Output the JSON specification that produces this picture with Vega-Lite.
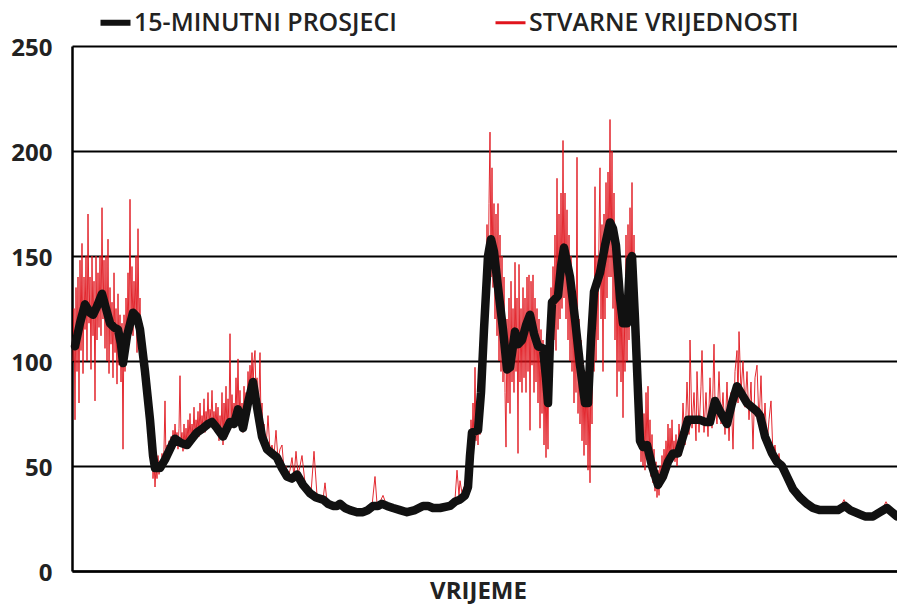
{
"$schema": "https://vega.github.io/schema/vega-lite/v6.json",
"width": 825, "height": 525,
"autosize": {"type": "none"},
"padding": {"left": 72, "top": 46, "right": 0, "bottom": 35},
"background": "white",
"config": {"view": {"stroke": null}, "font": "Open Sans"},
"datasets": {
"avg": [
{"t":75,"v":107},{"t":80,"v":118},{"t":85,"v":127},{"t":90,"v":123},{"t":93,"v":122},{"t":97,"v":126},{"t":102,"v":132},{"t":106,"v":125},{"t":110,"v":118},{"t":114,"v":116},{"t":118,"v":115},{"t":121,"v":108},{"t":123,"v":99},{"t":127,"v":112},{"t":133,"v":123},{"t":137,"v":121},{"t":140,"v":115},{"t":145,"v":95},{"t":150,"v":72},{"t":153,"v":55},{"t":155,"v":49},{"t":160,"v":49},{"t":165,"v":53},{"t":170,"v":58},{"t":175,"v":63},{"t":181,"v":61},{"t":187,"v":60},{"t":192,"v":63},{"t":197,"v":66},{"t":203,"v":68},{"t":208,"v":70},{"t":212,"v":71},{"t":217,"v":68},{"t":223,"v":64},{"t":227,"v":68},{"t":230,"v":71},{"t":234,"v":70},{"t":238,"v":77},{"t":241,"v":72},{"t":243,"v":68},{"t":248,"v":80},{"t":253,"v":90},{"t":257,"v":78},{"t":262,"v":64},{"t":267,"v":58},{"t":272,"v":56},{"t":277,"v":54},{"t":282,"v":49},{"t":287,"v":45},{"t":292,"v":44},{"t":297,"v":46},{"t":303,"v":41},{"t":310,"v":37},{"t":316,"v":35},{"t":323,"v":34},{"t":328,"v":32},{"t":333,"v":31},{"t":337,"v":31},{"t":340,"v":32},{"t":345,"v":30},{"t":350,"v":29},{"t":357,"v":28},{"t":363,"v":28},{"t":368,"v":29},{"t":373,"v":31},{"t":378,"v":31},{"t":382,"v":32},{"t":387,"v":31},{"t":393,"v":30},{"t":400,"v":29},{"t":407,"v":28},{"t":415,"v":29},{"t":423,"v":31},{"t":428,"v":31},{"t":433,"v":30},{"t":440,"v":30},{"t":450,"v":31},{"t":455,"v":33},{"t":460,"v":34},{"t":465,"v":36},{"t":468,"v":40},{"t":470,"v":55},{"t":472,"v":66},{"t":478,"v":67},{"t":481,"v":85},{"t":484,"v":115},{"t":488,"v":150},{"t":491,"v":158},{"t":494,"v":152},{"t":498,"v":135},{"t":503,"v":115},{"t":507,"v":96},{"t":510,"v":97},{"t":515,"v":114},{"t":518,"v":108},{"t":522,"v":110},{"t":526,"v":117},{"t":530,"v":122},{"t":534,"v":113},{"t":538,"v":107},{"t":543,"v":106},{"t":546,"v":92},{"t":548,"v":80},{"t":550,"v":110},{"t":552,"v":128},{"t":558,"v":131},{"t":561,"v":145},{"t":564,"v":154},{"t":567,"v":147},{"t":570,"v":140},{"t":575,"v":120},{"t":580,"v":98},{"t":585,"v":80},{"t":588,"v":80},{"t":591,"v":110},{"t":594,"v":133},{"t":600,"v":142},{"t":605,"v":155},{"t":610,"v":166},{"t":613,"v":163},{"t":616,"v":155},{"t":620,"v":130},{"t":623,"v":118},{"t":627,"v":118},{"t":630,"v":148},{"t":632,"v":150},{"t":635,"v":120},{"t":640,"v":62},{"t":643,"v":59},{"t":647,"v":60},{"t":652,"v":50},{"t":658,"v":41},{"t":663,"v":45},{"t":668,"v":52},{"t":673,"v":56},{"t":678,"v":56},{"t":683,"v":64},{"t":688,"v":72},{"t":693,"v":72},{"t":700,"v":72},{"t":705,"v":71},{"t":710,"v":71},{"t":715,"v":81},{"t":720,"v":76},{"t":727,"v":70},{"t":732,"v":80},{"t":737,"v":88},{"t":742,"v":84},{"t":747,"v":80},{"t":752,"v":78},{"t":757,"v":76},{"t":760,"v":74},{"t":765,"v":64},{"t":772,"v":56},{"t":777,"v":52},{"t":782,"v":50},{"t":787,"v":45},{"t":793,"v":39},{"t":800,"v":35},{"t":807,"v":32},{"t":813,"v":30},{"t":820,"v":29},{"t":830,"v":29},{"t":838,"v":29},{"t":845,"v":31},{"t":850,"v":29},{"t":860,"v":27},{"t":865,"v":26},{"t":873,"v":26},{"t":880,"v":28},{"t":887,"v":30},{"t":892,"v":28},{"t":897,"v":26}
],
"raw": [
{"t":73,"v":100},{"t":74,"v":125},{"t":75,"v":72},{"t":76,"v":135},{"t":77,"v":95},{"t":78,"v":140},{"t":79,"v":80},{"t":80,"v":148},{"t":81,"v":105},{"t":82,"v":156},{"t":83,"v":94},{"t":84,"v":140},{"t":85,"v":115},{"t":86,"v":150},{"t":87,"v":100},{"t":88,"v":170},{"t":89,"v":118},{"t":90,"v":140},{"t":91,"v":96},{"t":92,"v":150},{"t":93,"v":112},{"t":94,"v":138},{"t":95,"v":81},{"t":96,"v":150},{"t":97,"v":110},{"t":98,"v":142},{"t":99,"v":116},{"t":100,"v":150},{"t":101,"v":112},{"t":102,"v":173},{"t":103,"v":120},{"t":104,"v":148},{"t":105,"v":106},{"t":106,"v":150},{"t":107,"v":100},{"t":108,"v":158},{"t":109,"v":94},{"t":110,"v":135},{"t":111,"v":108},{"t":112,"v":128},{"t":113,"v":92},{"t":114,"v":142},{"t":115,"v":104},{"t":116,"v":125},{"t":117,"v":89},{"t":118,"v":132},{"t":119,"v":98},{"t":120,"v":122},{"t":121,"v":90},{"t":122,"v":118},{"t":123,"v":58},{"t":124,"v":122},{"t":125,"v":95},{"t":126,"v":130},{"t":127,"v":108},{"t":128,"v":142},{"t":129,"v":112},{"t":130,"v":177},{"t":131,"v":118},{"t":132,"v":145},{"t":133,"v":112},{"t":134,"v":138},{"t":135,"v":118},{"t":136,"v":150},{"t":137,"v":104},{"t":138,"v":163},{"t":139,"v":112},{"t":140,"v":130},{"t":141,"v":102},{"t":142,"v":118},{"t":143,"v":92},{"t":144,"v":110},{"t":145,"v":86},{"t":146,"v":98},{"t":147,"v":78},{"t":148,"v":84},{"t":149,"v":64},{"t":150,"v":75},{"t":151,"v":54},{"t":152,"v":60},{"t":153,"v":44},{"t":154,"v":53},{"t":155,"v":40},{"t":156,"v":50},{"t":157,"v":44},{"t":158,"v":55},{"t":159,"v":46},{"t":160,"v":52},
{"t":161,"v":48},{"t":162,"v":56},{"t":163,"v":50},{"t":164,"v":58},{"t":165,"v":81},{"t":166,"v":52},{"t":167,"v":60},{"t":168,"v":55},{"t":169,"v":62},{"t":170,"v":56},{"t":171,"v":64},{"t":172,"v":58},{"t":173,"v":67},{"t":174,"v":60},{"t":175,"v":70},{"t":176,"v":62},{"t":177,"v":66},{"t":178,"v":58},{"t":179,"v":68},{"t":180,"v":93},{"t":181,"v":62},{"t":182,"v":66},{"t":183,"v":57},{"t":184,"v":70},{"t":185,"v":58},{"t":186,"v":68},{"t":187,"v":60},{"t":188,"v":72},{"t":189,"v":62},{"t":190,"v":75},{"t":191,"v":61},{"t":192,"v":70},{"t":193,"v":64},{"t":194,"v":78},{"t":195,"v":63},{"t":196,"v":72},{"t":197,"v":66},{"t":198,"v":76},{"t":199,"v":64},{"t":200,"v":80},{"t":201,"v":66},{"t":202,"v":74},{"t":203,"v":68},{"t":204,"v":82},{"t":205,"v":66},{"t":206,"v":76},{"t":207,"v":70},{"t":208,"v":85},{"t":209,"v":68},{"t":210,"v":77},{"t":211,"v":72},{"t":212,"v":86},{"t":213,"v":70},{"t":214,"v":76},{"t":215,"v":68},{"t":216,"v":80},{"t":217,"v":66},{"t":218,"v":78},{"t":219,"v":62},{"t":220,"v":74},{"t":221,"v":64},{"t":222,"v":85},{"t":223,"v":60},{"t":224,"v":80},{"t":225,"v":66},{"t":226,"v":88},{"t":227,"v":64},{"t":228,"v":82},{"t":229,"v":70},{"t":230,"v":113},{"t":231,"v":68},{"t":232,"v":84},{"t":233,"v":70},{"t":234,"v":80},{"t":235,"v":72},{"t":236,"v":92},{"t":237,"v":74},{"t":238,"v":101},{"t":239,"v":72},{"t":240,"v":86},{"t":241,"v":68},{"t":242,"v":80},{"t":243,"v":66},{"t":244,"v":88},{"t":245,"v":72},{"t":246,"v":85},{"t":247,"v":76},{"t":248,"v":95},{"t":249,"v":82},{"t":250,"v":98},{"t":251,"v":86},{"t":252,"v":104},{"t":253,"v":88},{"t":254,"v":100},{"t":255,"v":105},{"t":256,"v":84},{"t":257,"v":92},{"t":258,"v":76},{"t":259,"v":85},{"t":260,"v":104},{"t":261,"v":70},{"t":262,"v":80},{"t":263,"v":62},{"t":264,"v":70},{"t":265,"v":60},
{"t":266,"v":58},{"t":268,"v":74},{"t":270,"v":57},{"t":272,"v":60},{"t":274,"v":55},{"t":276,"v":67},{"t":278,"v":53},{"t":280,"v":58},{"t":282,"v":60},{"t":284,"v":48},{"t":286,"v":50},{"t":288,"v":45},{"t":290,"v":48},{"t":292,"v":54},{"t":294,"v":45},{"t":296,"v":57},{"t":298,"v":46},{"t":300,"v":50},
{"t":302,"v":55},{"t":305,"v":42},{"t":308,"v":39},{"t":311,"v":37},{"t":314,"v":57},{"t":317,"v":36},{"t":320,"v":35},{"t":323,"v":34},{"t":325,"v":42},{"t":327,"v":33},{"t":330,"v":32},{"t":333,"v":31},{"t":336,"v":31},{"t":339,"v":33},{"t":342,"v":31},{"t":345,"v":30},{"t":348,"v":30},{"t":351,"v":29},{"t":354,"v":29},{"t":357,"v":28},{"t":360,"v":28},{"t":363,"v":29},{"t":366,"v":29},{"t":369,"v":30},{"t":372,"v":31},{"t":375,"v":45},{"t":377,"v":32},{"t":380,"v":33},{"t":383,"v":36},{"t":386,"v":32},{"t":389,"v":31},{"t":392,"v":30},{"t":395,"v":30},{"t":398,"v":29},{"t":401,"v":29},{"t":404,"v":28},{"t":407,"v":28},{"t":410,"v":29},{"t":413,"v":29},{"t":416,"v":30},{"t":419,"v":31},{"t":422,"v":32},{"t":425,"v":31},{"t":428,"v":31},{"t":431,"v":30},{"t":434,"v":30},{"t":437,"v":31},{"t":440,"v":30},{"t":443,"v":31},{"t":446,"v":31},{"t":449,"v":32},{"t":452,"v":33},{"t":455,"v":34},{"t":457,"v":48},{"t":459,"v":36},{"t":460,"v":43},{"t":462,"v":37},{"t":464,"v":40},{"t":466,"v":42},
{"t":467,"v":45},{"t":468,"v":38},{"t":469,"v":60},{"t":470,"v":50},{"t":471,"v":72},{"t":472,"v":58},{"t":473,"v":80},{"t":474,"v":60},{"t":475,"v":97},{"t":476,"v":62},{"t":477,"v":78},{"t":478,"v":60},{"t":479,"v":82},{"t":480,"v":65},{"t":481,"v":95},{"t":482,"v":75},{"t":483,"v":120},{"t":484,"v":95},{"t":485,"v":140},{"t":486,"v":110},{"t":487,"v":165},{"t":488,"v":125},{"t":489,"v":175},{"t":490,"v":209},{"t":491,"v":140},{"t":492,"v":192},{"t":493,"v":135},{"t":494,"v":175},{"t":495,"v":120},{"t":496,"v":170},{"t":497,"v":112},{"t":498,"v":175},{"t":499,"v":100},{"t":500,"v":160},{"t":501,"v":95},{"t":502,"v":150},{"t":503,"v":90},{"t":504,"v":140},{"t":505,"v":85},{"t":506,"v":59},{"t":507,"v":120},{"t":508,"v":80},{"t":509,"v":130},{"t":510,"v":75},{"t":511,"v":138},{"t":512,"v":90},{"t":513,"v":125},{"t":514,"v":85},{"t":515,"v":147},{"t":516,"v":95},{"t":517,"v":130},{"t":518,"v":56},{"t":519,"v":146},{"t":520,"v":90},{"t":521,"v":125},{"t":522,"v":85},{"t":523,"v":135},{"t":524,"v":92},{"t":525,"v":130},{"t":526,"v":85},{"t":527,"v":140},{"t":528,"v":95},{"t":529,"v":141},{"t":530,"v":67},{"t":531,"v":138},{"t":532,"v":98},{"t":533,"v":141},{"t":534,"v":85},{"t":535,"v":130},{"t":536,"v":90},{"t":537,"v":125},{"t":538,"v":80},{"t":539,"v":120},{"t":540,"v":68},{"t":541,"v":115},{"t":542,"v":75},{"t":543,"v":110},{"t":544,"v":60},{"t":545,"v":100},{"t":546,"v":54},{"t":547,"v":95},{"t":548,"v":58},{"t":549,"v":120},{"t":550,"v":90},{"t":551,"v":135},{"t":552,"v":100},{"t":553,"v":145},{"t":554,"v":110},{"t":555,"v":160},{"t":556,"v":105},{"t":557,"v":187},{"t":558,"v":115},{"t":559,"v":170},{"t":560,"v":120},{"t":561,"v":180},{"t":562,"v":125},{"t":563,"v":205},{"t":564,"v":130},{"t":565,"v":180},{"t":566,"v":120},{"t":567,"v":172},{"t":568,"v":110},{"t":569,"v":160},{"t":570,"v":100},{"t":571,"v":150},{"t":572,"v":95},{"t":573,"v":140},{"t":574,"v":80},{"t":575,"v":130},{"t":576,"v":85},{"t":577,"v":197},{"t":578,"v":75},{"t":579,"v":120},{"t":580,"v":70},{"t":581,"v":110},{"t":582,"v":62},{"t":583,"v":100},{"t":584,"v":55},{"t":585,"v":95},{"t":586,"v":60},{"t":587,"v":100},{"t":588,"v":48},{"t":589,"v":90},{"t":590,"v":42},{"t":591,"v":110},{"t":592,"v":70},{"t":593,"v":130},{"t":594,"v":95},{"t":595,"v":183},{"t":596,"v":100},{"t":597,"v":150},{"t":598,"v":110},{"t":599,"v":160},{"t":600,"v":192},{"t":601,"v":120},{"t":602,"v":165},{"t":603,"v":95},{"t":604,"v":170},{"t":605,"v":120},{"t":606,"v":185},{"t":607,"v":130},{"t":608,"v":190},{"t":609,"v":140},{"t":610,"v":215},{"t":611,"v":140},{"t":612,"v":200},{"t":613,"v":125},{"t":614,"v":180},{"t":615,"v":110},{"t":616,"v":160},{"t":617,"v":83},{"t":618,"v":150},{"t":619,"v":95},{"t":620,"v":140},{"t":621,"v":90},{"t":622,"v":135},{"t":623,"v":73},{"t":624,"v":130},{"t":625,"v":95},{"t":626,"v":160},{"t":627,"v":100},{"t":628,"v":165},{"t":629,"v":110},{"t":630,"v":173},{"t":631,"v":120},{"t":632,"v":185},{"t":633,"v":110},{"t":634,"v":160},{"t":635,"v":100},{"t":636,"v":135},{"t":637,"v":75},{"t":638,"v":95},{"t":639,"v":60},{"t":640,"v":80},{"t":641,"v":52},{"t":642,"v":72},{"t":643,"v":50},{"t":644,"v":75},{"t":645,"v":48},
{"t":646,"v":85},{"t":647,"v":55},{"t":648,"v":88},{"t":649,"v":50},{"t":650,"v":72},{"t":651,"v":45},{"t":652,"v":65},{"t":653,"v":42},{"t":654,"v":58},{"t":655,"v":38},{"t":656,"v":52},{"t":657,"v":35},{"t":658,"v":48},{"t":659,"v":36},{"t":660,"v":50},{"t":661,"v":40},{"t":662,"v":55},{"t":663,"v":42},{"t":664,"v":58},{"t":665,"v":46},{"t":666,"v":62},{"t":667,"v":48},{"t":668,"v":70},{"t":669,"v":50},{"t":670,"v":68},{"t":671,"v":52},{"t":672,"v":72},{"t":673,"v":54},{"t":674,"v":62},{"t":675,"v":52},{"t":676,"v":65},{"t":677,"v":50},{"t":679,"v":70},{"t":681,"v":55},{"t":683,"v":80},{"t":685,"v":60},{"t":687,"v":90},{"t":689,"v":65},{"t":690,"v":110},{"t":692,"v":68},{"t":694,"v":85},{"t":696,"v":62},{"t":697,"v":95},{"t":699,"v":66},{"t":701,"v":88},{"t":702,"v":105},{"t":704,"v":66},{"t":706,"v":85},{"t":708,"v":64},{"t":710,"v":92},{"t":712,"v":68},{"t":714,"v":108},{"t":715,"v":80},{"t":717,"v":70},{"t":719,"v":95},{"t":721,"v":70},{"t":723,"v":85},{"t":725,"v":65},{"t":727,"v":90},{"t":729,"v":62},{"t":731,"v":85},{"t":733,"v":58},{"t":735,"v":95},{"t":737,"v":105},{"t":738,"v":80},{"t":739,"v":114},{"t":741,"v":85},{"t":743,"v":100},{"t":745,"v":78},{"t":747,"v":95},{"t":749,"v":72},{"t":751,"v":90},{"t":753,"v":58},{"t":755,"v":92},{"t":757,"v":98},{"t":759,"v":70},{"t":761,"v":93},{"t":763,"v":62},{"t":765,"v":80},{"t":767,"v":60},{"t":769,"v":72},{"t":771,"v":81},{"t":773,"v":55},{"t":775,"v":60},{"t":777,"v":50},{"t":779,"v":56},{"t":781,"v":48},{"t":783,"v":52},{"t":785,"v":44},{"t":787,"v":47},
{"t":790,"v":42},{"t":793,"v":39},{"t":796,"v":37},{"t":799,"v":35},{"t":802,"v":34},{"t":805,"v":32},{"t":808,"v":31},{"t":811,"v":30},{"t":814,"v":30},{"t":817,"v":29},{"t":820,"v":29},{"t":823,"v":29},{"t":826,"v":29},{"t":829,"v":29},{"t":832,"v":29},{"t":835,"v":29},{"t":838,"v":30},{"t":841,"v":31},{"t":844,"v":34},{"t":847,"v":30},{"t":850,"v":29},{"t":853,"v":28},{"t":856,"v":28},{"t":859,"v":27},{"t":862,"v":26},{"t":865,"v":26},{"t":868,"v":27},{"t":871,"v":27},{"t":874,"v":26},{"t":877,"v":27},{"t":880,"v":29},{"t":883,"v":30},{"t":886,"v":33},{"t":889,"v":30},{"t":892,"v":28},{"t":895,"v":27},{"t":897,"v":26}
]
},
"encoding": {
  "x": {"field": "t", "type": "quantitative", "scale": {"domain": [72, 897], "nice": false, "zero": false},
        "axis": {"title": "VRIJEME", "labels": false, "ticks": false, "grid": false, "domainColor": "#000", "domainWidth": 2.5,
                 "titleFont": "Open Sans", "titleFontSize": 24, "titleFontWeight": "bold", "titleColor": "#222", "titlePadding": 8, "titleX": 406}},
  "y": {"field": "v", "type": "quantitative", "scale": {"domain": [0, 250], "nice": false},
        "axis": {"title": null, "values": [0, 50, 100, 150, 200, 250], "ticks": false, "tickSize": 0, "labelPadding": 20, "labelOffset": 2,
                 "labelFont": "Open Sans", "labelFontSize": 24, "labelFontWeight": "bold", "labelColor": "#222",
                 "grid": true, "gridColor": "#000", "gridWidth": 2, "gridOpacity": 1,
                 "domainColor": "#000", "domainWidth": 2.5}}
},
"layer": [
  {"data": {"name": "raw"},
   "mark": {"type": "line", "strokeWidth": 1, "opacity": 0.9, "interpolate": "linear"},
   "encoding": {"color": {"datum": "STVARNE VRIJEDNOSTI",
     "scale": {"domain": ["15-MINUTNI PROSJECI", "STVARNE VRIJEDNOSTI"], "range": ["#111111", "#e0141c"]},
     "legend": {"title": null, "orient": "none", "direction": "horizontal", "legendX": 31, "legendY": -36,
       "symbolType": "stroke", "symbolSize": 900, "symbolStrokeWidth": 3, "labelFont": "Open Sans", "labelFontSize": 25,
       "labelFontWeight": 600, "labelColor": "#222", "labelOffset": 6, "columnPadding": 92, "labelLimit": 400,
       "symbolOpacity": 1,
       "encode": {"symbols": {"update": {"strokeWidth": {"signal": "datum.value === '15-MINUTNI PROSJECI' ? 6 : 3"}}}}}}}},
  {"data": {"name": "avg"},
   "mark": {"type": "line", "strokeWidth": 8.5, "strokeJoin": "round", "strokeCap": "round"},
   "encoding": {"color": {"datum": "15-MINUTNI PROSJECI"}}}
]
}
